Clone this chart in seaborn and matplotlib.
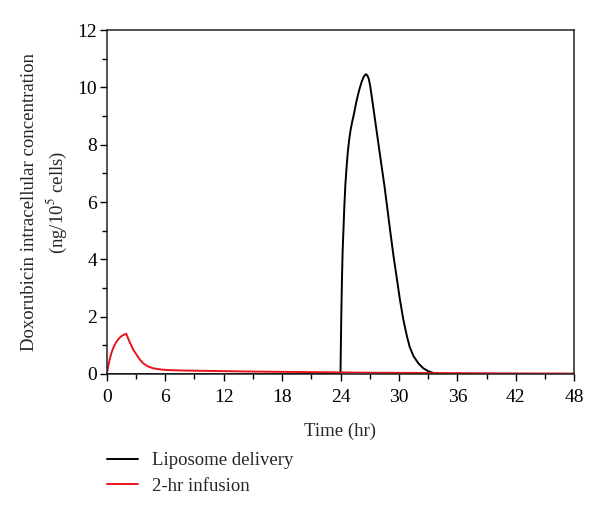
import matplotlib
matplotlib.use("Agg")
import matplotlib.pyplot as plt
from matplotlib.ticker import MultipleLocator
from matplotlib.lines import Line2D
import seaborn as sns
import pandas as pd

# Data
lipo_t = [0, 24.0, 24.03, 24.08, 24.15, 24.22, 24.3, 24.4, 24.5, 24.62, 24.75, 24.9,
          25.03, 25.2, 25.4, 25.6, 25.8, 26.0, 26.2, 26.4, 26.6, 26.75, 26.9, 27.05,
          27.2, 27.45, 27.7, 27.95, 28.2, 28.5, 28.8, 29.1, 29.45, 29.8, 30.1, 30.45,
          30.8, 31.1, 31.5, 32.0, 32.5, 33.0, 33.5, 34.0, 34.5, 48]
lipo_v = [0, 0, 0.8, 2.0, 3.3, 4.3, 5.0, 5.9, 6.6, 7.2, 7.75, 8.2,
          8.5, 8.8, 9.1, 9.45, 9.75, 10.0, 10.22, 10.38, 10.46, 10.42, 10.3, 10.05,
          9.7, 9.1, 8.5, 7.9, 7.3, 6.6, 5.8, 5.0, 4.1, 3.3, 2.6, 1.9,
          1.35, 0.95, 0.62, 0.37, 0.2, 0.1, 0.04, 0.015, 0.0, 0.0]
inf_t = [0, 0.15, 0.3, 0.5, 0.75, 1.0, 1.25, 1.5, 1.75, 2.0, 2.3, 2.7, 3.0, 3.4, 3.75,
         4.2, 4.75, 5.5, 6.1, 7, 8, 10, 12, 15, 18, 21, 24, 27, 30, 36, 42, 48]
inf_v = [0, 0.28, 0.52, 0.76, 0.98, 1.13, 1.24, 1.32, 1.37, 1.40, 1.15, 0.86, 0.70, 0.50, 0.37,
         0.27, 0.20, 0.16, 0.14, 0.13, 0.12, 0.11, 0.10, 0.085, 0.075, 0.065, 0.055, 0.045,
         0.04, 0.03, 0.02, 0.015]
series_names = ["Liposome delivery", "2-hr infusion"]
series_colors = ["#000000", "#e8141c"]
x_ticks = [0, 6, 12, 18, 24, 30, 36, 42, 48]
y_ticks = [0, 2, 4, 6, 8, 10, 12]

df = pd.concat([
    pd.DataFrame({"t": lipo_t, "v": lipo_v, "series": series_names[0]}),
    pd.DataFrame({"t": inf_t, "v": inf_v, "series": series_names[1]}),
], ignore_index=True)

sns.set_style("ticks")
plt.rcParams["font.family"] = ["Liberation Serif", "DejaVu Serif"]
plt.rcParams["mathtext.fontset"] = "stix"

fig = plt.figure(figsize=(6.0, 5.18), dpi=100)
ax = fig.add_axes([0.178, 0.278, 0.779, 0.664])

sns.lineplot(data=df, x="t", y="v", hue="series", hue_order=series_names,
             palette=dict(zip(series_names, series_colors)), estimator=None,
             sort=False, linewidth=1.4, ax=ax, legend=False)

ax.set_xlim(0, 48)
ax.set_ylim(0, 12)
ax.set_xticks(x_ticks)
ax.set_yticks(y_ticks)
ax.xaxis.set_minor_locator(MultipleLocator(3))
ax.yaxis.set_minor_locator(MultipleLocator(1))
ax.tick_params(which="major", direction="out", length=5, width=1, labelsize=14,
               color="black", labelcolor="black")
ax.tick_params(axis="x", which="major", pad=6)
ax.tick_params(axis="y", which="major", pad=2)
ax.tick_params(which="minor", direction="out", length=3.5, width=1, color="black")
for s in ax.spines.values():
    s.set_visible(True)
    s.set_color("#222222")
    s.set_linewidth(1.1)

ax.set_xlabel("Time (hr)", fontsize=13.5, labelpad=12)
ax.set_ylabel("Doxorubicin intracellular concentration\n(ng/10$^5$ cells)",
              fontsize=13.5, labelpad=6, linespacing=1.4)

handles = [Line2D([], [], color=c, linewidth=1.4) for c in series_colors]
fig.legend(handles, series_names, loc="upper left", bbox_to_anchor=(0.166, 0.142),
           frameon=False, fontsize=13.5, handlelength=1.65, handletextpad=0.75,
           labelspacing=0.45, borderaxespad=0)

fig.savefig("out.png", dpi=100)
